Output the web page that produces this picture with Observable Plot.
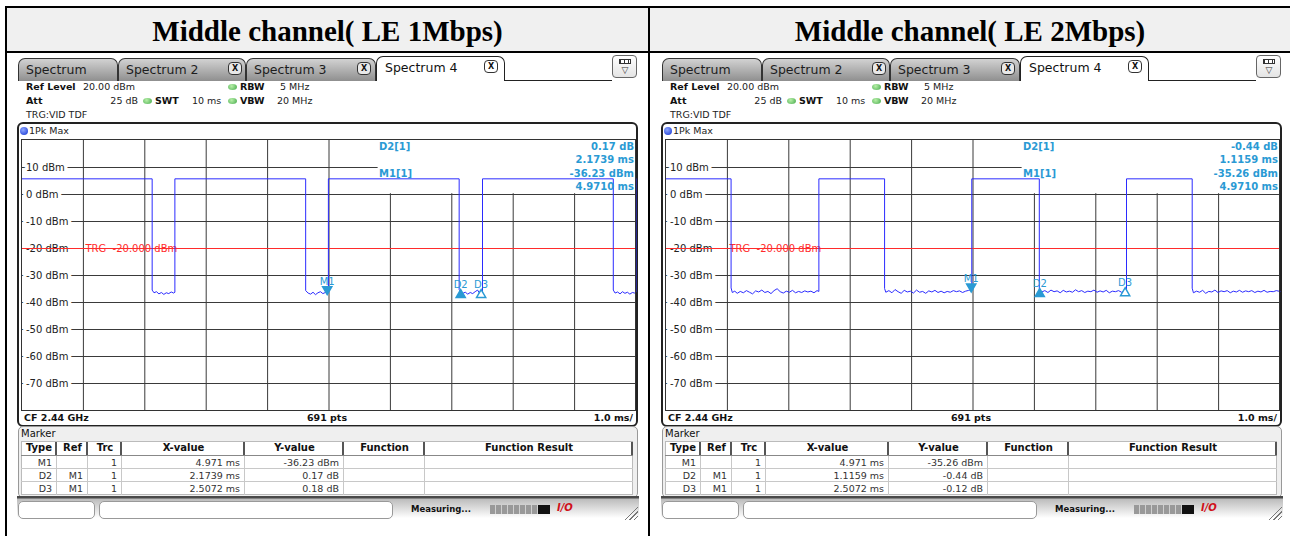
<!DOCTYPE html>
<html><head><meta charset="utf-8">
<script src="https://cdn.jsdelivr.net/npm/d3@7"></script>
<script src="https://cdn.jsdelivr.net/npm/@observablehq/plot@0.6"></script>
<style>
html,body{margin:0;padding:0;background:#fff}
body{width:1290px;height:536px;overflow:hidden;position:relative;font-family:"DejaVu Sans",sans-serif;color:#222}
</style></head><body>
<script>
const titles = ["Middle channel( LE 1Mbps)", "Middle channel( LE 2Mbps)"];
const tabLabels = ["Spectrum", "Spectrum 2", "Spectrum 3", "Spectrum 4"];
const yTicks = [10, 0, -10, -20, -30, -40, -50, -60, -70];
const xGrid = [1, 2, 3, 4, 5, 6, 7, 8, 9];
const trgLevel = -20;
const trgText = "TRG  -20.000 dBm";

// trace: [time ms, level dBm]
const trace1 = [
[0,5.8],[2.12,5.8],[2.12,-35.4],[2.15,-36.4],[2.19,-36.0],[2.23,-36.8],[2.27,-36.3],[2.31,-37.0],[2.35,-36.4],[2.39,-36.7],[2.43,-36.1],[2.47,-36.5],[2.49,-36.2],[2.49,5.8],
[4.62,5.8],[4.62,-35.6],[4.66,-36.5],[4.70,-36.9],[4.74,-36.2],[4.78,-37.1],[4.82,-36.4],[4.86,-36.0],[4.90,-36.7],[4.94,-36.3],[4.971,-36.23],[4.99,-36.4],[4.99,5.8],
[7.12,5.8],[7.12,-35.2],[7.145,-36.06],[7.18,-36.6],[7.22,-36.2],[7.26,-36.9],[7.30,-36.3],[7.34,-36.7],[7.38,-36.0],[7.42,-35.4],[7.45,-36.5],[7.478,-36.05],[7.50,-36.2],[7.50,5.8],
[9.63,5.8],[9.63,-35.4],[9.66,-36.5],[9.70,-36.1],[9.74,-36.8],[9.78,-36.0],[9.82,-36.6],[9.86,-36.2],[9.90,-36.9],[9.94,-36.3],[9.98,-36.5],[10,-36.2],[10,5.8]
];
const trace2 = [
[0,5.8],[1.06,5.8],[1.06,-34.6],[1.08,-36.3],[1.12,-35.8],[1.16,-36.6],[1.21,-35.9],[1.26,-36.4],[1.31,-35.6],[1.36,-36.2],[1.41,-36.8],[1.46,-35.7],[1.51,-36.1],[1.56,-35.4],[1.61,-36.3],[1.66,-35.9],[1.71,-36.7],[1.76,-35.6],[1.81,-34.9],[1.86,-36.0],[1.91,-36.5],[1.96,-35.8],[2.01,-36.2],[2.06,-35.5],[2.11,-36.4],[2.16,-35.9],[2.21,-36.3],[2.26,-35.7],[2.31,-36.1],[2.36,-35.8],[2.41,-36.4],[2.46,-35.6],[2.49,-35.9],[2.49,5.8],
[3.56,5.8],[3.56,-34.8],[3.58,-36.2],[3.63,-35.6],[3.68,-36.4],[3.73,-35.2],[3.78,-36.0],[3.83,-36.6],[3.88,-35.5],[3.93,-36.1],[3.98,-35.8],[4.03,-36.5],[4.08,-35.4],[4.13,-36.2],[4.18,-35.9],[4.23,-36.6],[4.28,-35.7],[4.33,-36.1],[4.38,-35.5],[4.43,-36.3],[4.48,-35.8],[4.53,-36.4],[4.58,-35.9],[4.63,-36.2],[4.68,-35.6],[4.73,-36.0],[4.78,-35.7],[4.83,-36.3],[4.88,-35.8],[4.93,-35.5],[4.971,-35.26],[4.98,-35.4],[4.98,5.8],
[6.08,5.8],[6.08,-35.0],[6.087,-35.70],[6.12,-36.1],[6.17,-35.6],[6.22,-36.3],[6.27,-35.4],[6.32,-36.0],[6.37,-35.7],[6.42,-36.4],[6.47,-35.5],[6.52,-36.1],[6.57,-35.8],[6.62,-36.2],[6.67,-35.3],[6.72,-36.0],[6.77,-35.6],[6.82,-36.3],[6.87,-35.8],[6.92,-36.0],[6.97,-35.4],[7.02,-36.2],[7.07,-35.7],[7.12,-36.1],[7.17,-35.5],[7.22,-36.4],[7.27,-35.8],[7.32,-36.0],[7.37,-35.6],[7.42,-36.2],[7.478,-35.38],[7.50,-35.6],[7.50,5.8],
[8.57,5.8],[8.57,-34.7],[8.59,-36.4],[8.64,-35.8],[8.69,-36.2],[8.74,-35.5],[8.79,-36.6],[8.84,-35.9],[8.89,-36.1],[8.94,-35.4],[8.99,-36.3],[9.04,-35.7],[9.09,-36.0],[9.14,-35.6],[9.19,-36.4],[9.24,-35.8],[9.29,-36.1],[9.34,-35.5],[9.39,-36.2],[9.44,-35.7],[9.49,-36.0],[9.54,-35.6],[9.59,-36.3],[9.64,-35.8],[9.69,-36.1],[9.74,-35.5],[9.79,-36.2],[9.84,-35.9],[9.89,-36.0],[9.94,-35.6],[10,-35.9]
];

const markerNames = ["M1", "D2", "D3"];
const markerTimes1 = [4.971, 7.145, 7.478];
const markerLevels1 = [-36.23, -36.06, -36.05];
const markerTimes2 = [4.971, 6.087, 7.478];
const markerLevels2 = [-35.26, -35.70, -35.38];

const readoutLabels = ["D2[1]", "M1[1]"];
const readout1 = ["0.17 dB", "2.1739 ms", "-36.23 dBm", "4.9710 ms"];
const readout2 = ["-0.44 dB", "1.1159 ms", "-35.26 dBm", "4.9710 ms"];

const infoLine1 = ["Ref Level", "20.00 dBm", "RBW", "5 MHz"];
const infoLine2 = ["Att", "25 dB", "SWT", "10 ms", "VBW", "20 MHz"];
const infoLine3 = "TRG:VID TDF";
const traceLabel = "1Pk Max";
const footer = ["CF 2.44 GHz", "691 pts", "1.0 ms/"];

const tableHead = ["Type", "Ref", "Trc", "X-value", "Y-value", "Function", "Function Result"];
const rows1 = [["M1", "", "1", "4.971 ms", "-36.23 dBm"], ["D2", "M1", "1", "2.1739 ms", "0.17 dB"], ["D3", "M1", "1", "2.5072 ms", "0.18 dB"]];
const rows2 = [["M1", "", "1", "4.971 ms", "-35.26 dBm"], ["D2", "M1", "1", "1.1159 ms", "-0.44 dB"], ["D3", "M1", "1", "2.5072 ms", "-0.12 dB"]];
const statusText = "Measuring...";

function box(parent, x, y, w, h, css, text) {
  const d = document.createElement("div");
  d.style.cssText = `position:absolute;left:${x}px;top:${y}px;` + (w != null ? `width:${w}px;` : "") + (h != null ? `height:${h}px;` : "") + "box-sizing:border-box;" + (css || "");
  if (text != null) d.textContent = text;
  parent.appendChild(d);
  return d;
}

// outer table
box(document.body, 5, 6, 1290, 530, "border-top:2px solid #000;border-left:2px solid #000;");
box(document.body, 7, 8, 1283, 43, "background:#f0f0f0");
box(document.body, 5, 51, 1285, 2, "background:#000");
box(document.body, 648, 6, 2, 530, "background:#000");
box(document.body, 7, 15, 641, 36, "text-align:center;line-height:36px;font:bold 29px 'Liberation Serif',serif;color:#000;white-space:nowrap", titles[0]);
box(document.body, 650, 15, 640, 36, "text-align:center;line-height:36px;font:bold 29px 'Liberation Serif',serif;color:#000;white-space:nowrap", titles[1]);

const markerColor = "#2a9ad4";

function panel(ox, trace, mTimes, mLevels, readout, rows) {
  const P = box(document.body, ox, 0, 645, 536, "");
  // tabs
  const tabGeo = [[18, 100], [118, 128], [246, 130], [376, 129]];
  const closeX = [null, 228, 357, 484];
  box(P, 18, 80, 358, 1, "background:#333");
  tabLabels.forEach((lab, i) => {
    const [x, w] = tabGeo[i];
    if (i < 3) {
      box(P, x, 58, w, 23, "border:1px solid #333;border-bottom:none;border-radius:7px 7px 0 0;background:linear-gradient(#d2d2d2,#8f8f8f);font:12.5px 'DejaVu Sans';color:#1d1d1d;line-height:21px;padding-left:7px", lab);
    } else {
      box(P, x, 56, w, 25, "border:1px solid #222;border-bottom:none;border-radius:7px 7px 0 0;background:#fff;font:12.5px 'DejaVu Sans';color:#111;line-height:22px;padding-left:8px", lab);
    }
    if (closeX[i] != null) {
      box(P, closeX[i], i === 3 ? 60 : 62, 14, 13, "border:1px solid #333;border-radius:4px;background:" + (i === 3 ? "#fff" : "#e8e8e8") + ";font:bold 8px 'DejaVu Sans';text-align:center;line-height:11px;color:#111", "X");
    }
  });
  box(P, 505, 80, 107, 1, "background:#222");
  const ic = box(P, 612, 55, 25, 23, "border:1px solid #666;border-radius:4px;background:linear-gradient(#fff,#e4e4e4)");
  box(ic, 6, 3, 12, 5, "border:1px solid #333;background:repeating-linear-gradient(90deg,#333 0 1px,#fff 1px 4px)");
  box(ic, 5, 8, 14, 12, "font:9px 'DejaVu Sans';text-align:center;line-height:12px;color:#333", "▽");

  // info lines
  const fs = "font:9.5px 'DejaVu Sans';line-height:12px;color:#222;white-space:nowrap;";
  const fb = "font:bold 9.5px 'DejaVu Sans';line-height:12px;color:#111;white-space:nowrap;";
  const dot = (x, y) => box(P, x, y - 3, 9, 6, "border-radius:50%;background:radial-gradient(circle at 40% 35%,#b8f0a8,#43a84a)");
  box(P, 26, 81, null, 12, fb, infoLine1[0]);
  box(P, 83, 81, null, 12, fs, infoLine1[1]);
  dot(228, 87);
  box(P, 240, 81, null, 12, fb, infoLine1[2]);
  box(P, 280, 81, null, 12, fs, infoLine1[3]);
  box(P, 26, 95, null, 12, fb, infoLine2[0]);
  box(P, 70, 95, 68, 12, fs + "text-align:right", infoLine2[1]);
  dot(143, 101);
  box(P, 155, 95, null, 12, fb, infoLine2[2]);
  box(P, 192, 95, null, 12, fs, infoLine2[3]);
  dot(228, 101);
  box(P, 240, 95, null, 12, fb, infoLine2[4]);
  box(P, 277, 95, null, 12, fs, infoLine2[5]);
  box(P, 26, 109, null, 12, fs, infoLine3);

  // trace window frame
  box(P, 17, 122, 621, 305, "border:2px solid #222;border-radius:6px;background:#fff");
  box(P, 20, 127, 8, 8, "border-radius:50%;background:radial-gradient(circle at 40% 35%,#8fa8ff,#1030d0)");
  box(P, 29, 125, null, 12, fs, traceLabel);

  // plot
  const markers = markerNames.map((n, i) => ({name: n, t: mTimes[i], v: mLevels[i]}));
  const svg = Plot.plot({
    width: 615, height: 272,
    marginTop: 0, marginRight: 0, marginBottom: 0, marginLeft: 0,
    x: {domain: [0, 10], range: [0.5, 614.5], axis: null},
    y: {domain: [-80, 20], range: [271, 1], axis: null},
    style: {position: "absolute", left: "21px", top: "139px", background: "transparent", fontFamily: "DejaVu Sans", fontSize: "10px", overflow: "visible"},
    marks: [
      Plot.ruleX(xGrid, {stroke: "#3a3a3a", strokeWidth: 1}),
      Plot.ruleY(yTicks, {stroke: "#3a3a3a", strokeWidth: 1}),
      Plot.rect([0], {x1: 5.8, x2: 10, y1: 0.3, y2: 20, fill: "white"}),
      Plot.text(yTicks, {x: 0, y: d => d, text: d => `${d} dBm`, textAnchor: "start", dx: 4, fill: "#222", stroke: "white", strokeWidth: 7, fontSize: 10}),
      Plot.ruleY([trgLevel], {stroke: "#ff2b2b", strokeWidth: 1}),
      Plot.text([trgLevel], {x: 1, y: d => d, text: () => trgText, textAnchor: "start", dx: 2, fill: "#ff2b2b", fontSize: 10}),
      Plot.line(trace, {x: d => d[0], y: d => d[1], stroke: "#2b2bff", strokeWidth: 1}),
      Plot.dot(markers.filter(d => d.name === "M1"), {x: "t", y: "v", symbol: "triangle", rotate: 180, r: 3.4, dy: -3, fill: markerColor, stroke: markerColor}),
      Plot.dot(markers.filter(d => d.name === "D2"), {x: "t", y: "v", symbol: "triangle", r: 3.4, dy: 3, fill: markerColor, stroke: markerColor}),
      Plot.dot(markers.filter(d => d.name === "D3"), {x: "t", y: "v", symbol: "triangle", r: 3.4, dy: 3, fill: "white", stroke: markerColor}),
      Plot.text(markers.filter(d => d.name === "M1"), {x: "t", y: "v", text: "name", dy: -11, fill: markerColor, fontSize: 10}),
      Plot.text(markers.filter(d => d.name !== "M1"), {x: "t", y: "v", text: "name", dy: -7, fill: markerColor, fontSize: 10})
    ]
  });
  P.appendChild(svg);
  box(P, 21, 139, 615, 272, "border:1px solid #333;pointer-events:none");

  // readout
  const rb = `font:bold 10px 'DejaVu Sans';line-height:12px;color:${markerColor};white-space:nowrap;`;
  box(P, 379, 141, null, 12, rb, readoutLabels[0]);
  box(P, 379, 168, null, 12, rb, readoutLabels[1]);
  [147, 160, 174, 187].forEach((c, i) => box(P, 470, c - 6, 164, 12, rb + "text-align:right", readout[i]));

  // footer of trace window
  const fbb = "font:bold 9.5px 'DejaVu Sans';line-height:12px;color:#111;white-space:nowrap;";
  box(P, 24, 412, null, 12, fbb, footer[0]);
  box(P, 227, 412, 200, 12, fbb + "text-align:center", footer[1]);
  box(P, 500, 412, 133, 12, fbb + "text-align:right", footer[2]);

  // marker table panel
  box(P, 18, 426, 620, 72, "border:1px solid #999;border-radius:5px;background:#efefef");
  box(P, 21, 427, null, 13, "font:10px 'DejaVu Sans';line-height:13px;color:#111", "Marker");
  const cols = [21, 57, 88, 122, 245, 344, 425, 633];
  box(P, 21, 441, 612, 54, "background:#fff;border:1px solid #bbb");
  box(P, 21, 455, 612, 1, "background:#888");
  [468, 481].forEach(y => box(P, 21, y, 612, 1, "background:#c8c8c8"));
  tableHead.forEach((h, i) => {
    box(P, cols[i], 441, cols[i + 1] - cols[i], 14, "font:bold 10px 'DejaVu Sans';line-height:14px;text-align:center;color:#111", h);
    if (i < 7) box(P, cols[i + 1] - 2, 442, 2, 13, "background:#555");
    if (i < 6) box(P, cols[i + 1] - 1, 456, 1, 39, "background:#c8c8c8");
  });
  rows.forEach((r, j) => {
    r.forEach((v, i) => {
      box(P, cols[i], 456 + j * 13, cols[i + 1] - cols[i], 13, "font:9.5px 'DejaVu Sans';line-height:13px;text-align:right;padding-right:5px;color:#333;white-space:nowrap", v);
    });
  });

  // status bar
  box(P, 17, 496, 622, 24, "background:linear-gradient(#4a4a4a 0,#4a4a4a 2px,#bcbcbc 3px,#ffffff 22px)");
  box(P, 18, 501, 77, 18, "border:1px solid #999;border-radius:5px;background:#fff");
  box(P, 99, 501, 294, 18, "border:1px solid #999;border-radius:5px;background:#fff");
  box(P, 411, 503, null, 12, "font:bold 8.5px 'DejaVu Sans';line-height:12px;color:#111", statusText);
  box(P, 490, 505, 48, 9, "background:repeating-linear-gradient(90deg,#999 0 5px,#d0d0d0 5px 6px)");
  box(P, 538, 505, 12, 9, "background:#111");
  box(P, 557, 502, 22, 12, "font:italic bold 10px 'DejaVu Sans';line-height:12px;color:#d0101a", "I/O");
  box(P, 624, 505, 14, 15, "background:repeating-linear-gradient(135deg,transparent 0 2px,#777 2px 3px);clip-path:polygon(100% 0,100% 100%,0 100%)");
}

panel(0, trace1, markerTimes1, markerLevels1, readout1, rows1);
panel(644, trace2, markerTimes2, markerLevels2, readout2, rows2);
</script>
</body></html>
